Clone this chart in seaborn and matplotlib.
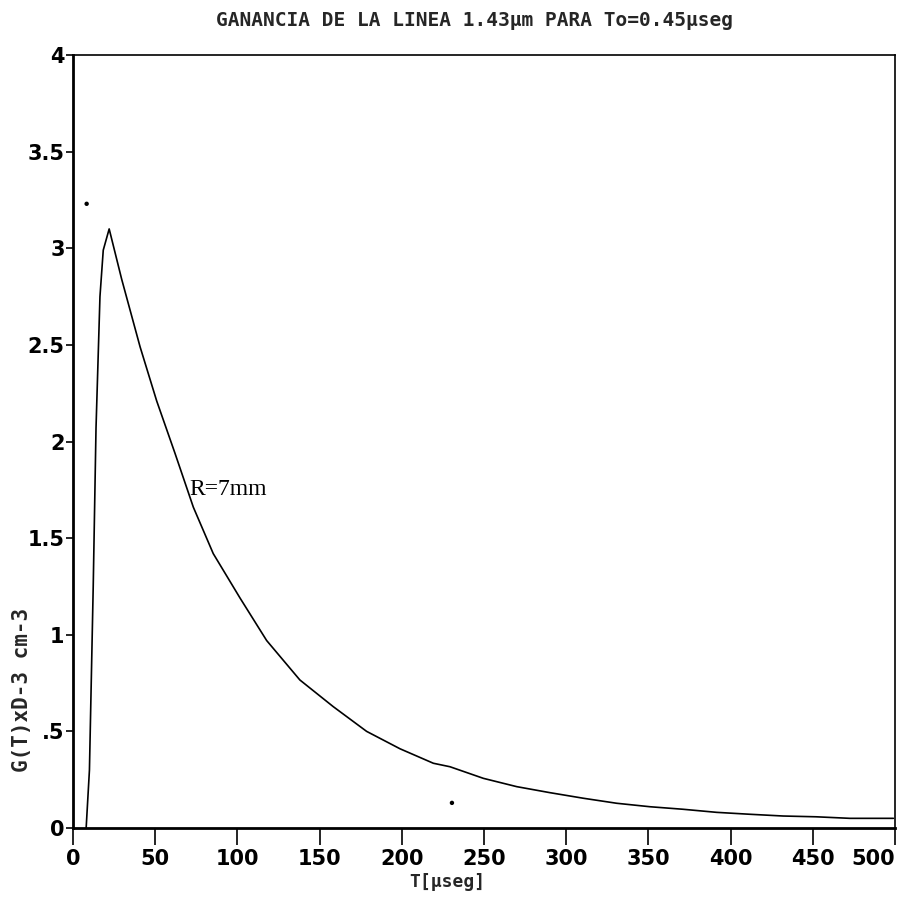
import matplotlib
matplotlib.use("Agg")
import matplotlib.pyplot as plt
import seaborn as sns
import pandas as pd

# ---- data ----
t_us = [8, 10, 12.3, 14, 16.4, 18.4, 22, 29.6, 40.8, 50.9, 62.0, 73.2, 85.3,
        101.6, 117.8, 138, 158.3, 178.6, 198.9, 219.2, 229.3, 249.6, 269.9,
        290, 310.4, 330.7, 351, 371, 391.5, 411.8, 432, 452, 472.6, 499]
gain = [0.0, 0.3, 1.25, 2.07, 2.75, 2.99, 3.10, 2.84, 2.49, 2.21, 1.94, 1.66,
        1.42, 1.19, 0.97, 0.766, 0.628, 0.50, 0.41, 0.335, 0.317, 0.257,
        0.214, 0.183, 0.154, 0.128, 0.11, 0.097, 0.081, 0.071, 0.062, 0.058,
        0.05, 0.05]
stray_t = [8.3, 230.5]
stray_g = [3.23, 0.13]

x_ticks = [0, 50, 100, 150, 200, 250, 300, 350, 400, 450, 500]
y_ticks = [0, 0.5, 1, 1.5, 2, 2.5, 3, 3.5, 4]
y_ticklabels = ["0", ".5", "1", "1.5", "2", "2.5", "3", "3.5", "4"]

title = "GANANCIA DE LA LINEA 1.43µm PARA To=0.45µseg"
xlabel = "T[µseg]"
ylabel = "G(T)xD-3 cm-3"
annot = "R=7mm"

df = pd.DataFrame({"t": t_us, "g": gain})
dots = pd.DataFrame({"t": stray_t, "g": stray_g})

sns.set_style("white")
plt.rcParams["font.family"] = ["DejaVu Sans Mono", "DejaVu Sans"]
narrow = ["Liberation Sans Narrow", "DejaVu Sans"]

fig = plt.figure(figsize=(8.99, 9.02), dpi=100)
ax = fig.add_axes([73 / 899, 1 - 828 / 902, (895 - 73) / 899, (828 - 55) / 902])

sns.lineplot(data=df, x="t", y="g", ax=ax, color="black", linewidth=1.2)
sns.scatterplot(data=dots, x="t", y="g", ax=ax, color="black", s=10,
                edgecolor="none")

ax.set_xlim(0, 500)
ax.set_ylim(0, 4)
ax.set_xticks(x_ticks)
xl = ax.set_xticklabels([str(v) for v in x_ticks], fontsize=15,
                        fontweight="bold", family=narrow)
xl[-1].set_horizontalalignment("right")
xl[-1].set_x(503)
ax.set_yticks(y_ticks)
ax.set_yticklabels(y_ticklabels, fontsize=15, fontweight="bold",
                   family=narrow)
ax.tick_params(axis="x", direction="out", length=12, width=1.2, pad=3,
               bottom=True, colors="black")
ax.tick_params(axis="y", direction="out", length=5, width=1.2, pad=1,
               left=True, colors="black")

for side in ["left", "bottom"]:
    ax.spines[side].set_linewidth(2.0)
for side in ["top", "right"]:
    ax.spines[side].set_linewidth(1.2)
for s in ax.spines.values():
    s.set_color("black")

ax.set_xlabel("")
ax.set_ylabel("")
fig.text(447 / 899, 1 - 882 / 902, xlabel, ha="center", va="center",
         fontsize=13, fontweight="bold", family="DejaVu Sans Mono")
fig.text(22 / 899, 1 - 690 / 902, ylabel, ha="center", va="center",
         rotation=90, fontsize=15, fontweight="bold",
         family="DejaVu Sans Mono")
fig.text(475 / 899, 1 - 20 / 902, title, ha="center", va="center",
         fontsize=14, fontweight="bold", family="DejaVu Sans Mono")

ax.text(71, 1.75, annot, fontsize=17, family="Liberation Serif",
        ha="left", va="center", color="black")

fig.savefig("out.png", dpi=100)
